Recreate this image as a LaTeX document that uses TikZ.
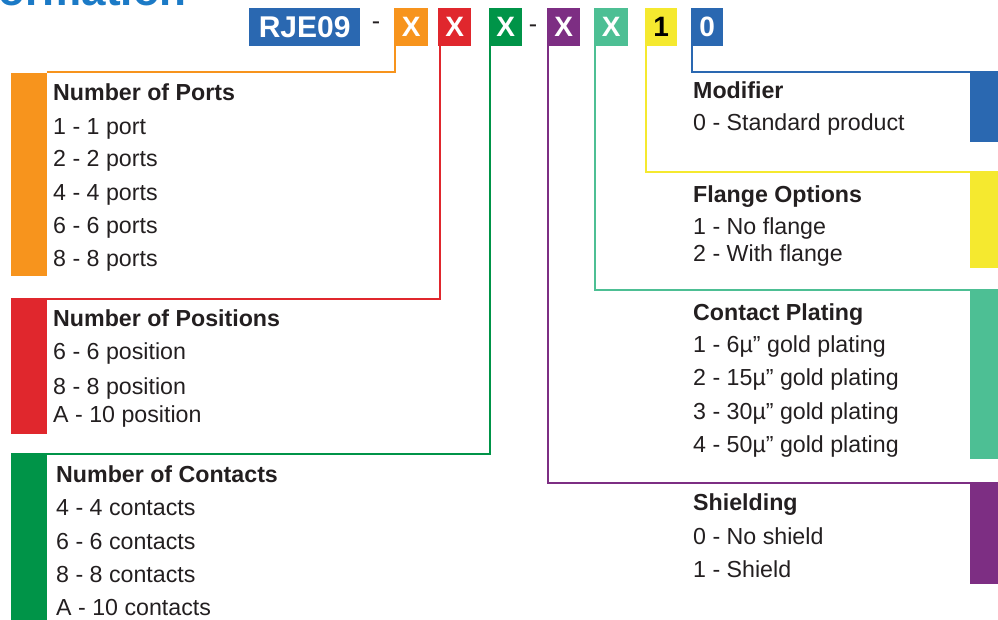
\documentclass[tikz,border=0pt]{standalone}
\usepackage{fontspec}
\setmainfont{Liberation Sans}
\definecolor{corange}{HTML}{F7941D}
\definecolor{cred}{HTML}{E0272D}
\definecolor{cgreen}{HTML}{009448}
\definecolor{cpurple}{HTML}{7D2E83}
\definecolor{cteal}{HTML}{4DBF94}
\definecolor{cyellow}{HTML}{F5E92F}
\definecolor{cblue}{HTML}{2A68B1}
\definecolor{ctitle}{HTML}{1B7AC6}
\definecolor{ctext}{HTML}{231F20}
\begin{document}
\begin{tikzpicture}[x=1pt,y=-1pt,
  txt/.style={anchor=base west,inner sep=0pt,text=ctext,font=\fontsize{23.2}{27}\selectfont},
  head/.style={txt,font=\fontsize{23.2}{27}\selectfont\bfseries},
  codebox/.style={draw=none,inner sep=0pt,minimum height=38pt,anchor=north west,text=white,font=\fontsize{28}{30}\selectfont\bfseries},
  bar/.style={draw=none,inner sep=0pt,anchor=north west},
  conn/.style={line width=2pt}]
\useasboundingbox (0,0) rectangle (998,619);
\clip (0,0) rectangle (998,619);
% title (cut off at the top edge, as in the reference)
\node[anchor=base east,inner sep=0pt,text=ctitle,font=\fontsize{44}{48}\selectfont\bfseries] (title) at (187,5) {Information};
% code boxes
\node[codebox,fill=cblue,minimum width=111pt,font=\fontsize{30}{32}\selectfont\bfseries] (rje) at (249,8) {RJE09};
\node[txt,anchor=base,font=\fontsize{25}{27}\selectfont] (dash1) at (376,29.5) {-};
\node[codebox,fill=corange,minimum width=34pt] (xo) at (394,8) {X};
\node[codebox,fill=cred,minimum width=33pt] (xr) at (438,8) {X};
\node[codebox,fill=cgreen,minimum width=33pt] (xg) at (489,8) {X};
\node[txt,anchor=base,font=\fontsize{25}{27}\selectfont] (dash2) at (533,32.5) {-};
\node[codebox,fill=cpurple,minimum width=33pt] (xp) at (547,8) {X};
\node[codebox,fill=cteal,minimum width=34pt] (xt) at (594,8) {X};
\node[codebox,fill=cyellow,minimum width=32pt,text=black] (xy) at (645,8) {1};
\node[codebox,fill=cblue,minimum width=32pt] (xb) at (691,8) {0};
% left bars
\node[bar,fill=corange,minimum width=36pt,minimum height=203pt] (portsbar) at (11,73) {};
\node[bar,fill=cred,minimum width=36pt,minimum height=135pt] (posbar) at (11,299) {};
\node[bar,fill=cgreen,minimum width=36pt,minimum height=170pt] (conbar) at (11,454) {};
% right bars
\node[bar,fill=cblue,minimum width=28pt,minimum height=70pt] (modbar) at (970,72) {};
\node[bar,fill=cyellow,minimum width=28pt,minimum height=96pt] (flbar) at (970,172) {};
\node[bar,fill=cteal,minimum width=28pt,minimum height=169pt] (platbar) at (970,290) {};
\node[bar,fill=cpurple,minimum width=28pt,minimum height=101pt] (shbar) at (970,483) {};
% connectors
\draw[conn,corange] ([xshift=1pt]xo.south west) |- ([yshift=1pt]portsbar.north east);
\draw[conn,cred] ([xshift=1.5pt]xr.south west) |- (posbar.north west);
\draw[conn,cgreen] ([xshift=1pt]xg.south west) |- (conbar.north west);
\draw[conn,cpurple] ([xshift=1pt]xp.south west) |- (shbar.north east);
\draw[conn,cteal] ([xshift=1pt]xt.south west) |- (platbar.north east);
\draw[conn,cyellow] ([xshift=1pt]xy.south west) |- (flbar.north east);
\draw[conn,cblue] ([xshift=1pt]xb.south west) |- (modbar.north east);
% left texts
\node[head] (h1) at (53,100.7) {Number of Ports};
\node[txt] (p1) at (53,134) {1 - 1 port};
\node[txt] (p2) at (53,166.7) {2 - 2 ports};
\node[txt] (p3) at (53,200) {4 - 4 ports};
\node[txt] (p4) at (53,233.3) {6 - 6 ports};
\node[txt] (p5) at (53,266.7) {8 - 8 ports};
\node[head] (h2) at (53,326) {Number of Positions};
\node[txt] (q1) at (53,359.3) {6 - 6 position};
\node[txt] (q2) at (53,394.3) {8 - 8 position};
\node[txt] (q3) at (53,422.7) {A - 10 position};
\node[head] (h3) at (56,482.7) {Number of Contacts};
\node[txt] (c1) at (56,515.7) {4 - 4 contacts};
\node[txt] (c2) at (56,549) {6 - 6 contacts};
\node[txt] (c3) at (56,582.3) {8 - 8 contacts};
\node[txt] (c4) at (56,615) {A - 10 contacts};
% right texts
\node[head] (h4) at (693,98.3) {Modifier};
\node[txt] (m1) at (693,130.7) {0 - Standard product};
\node[head] (h5) at (693,202.3) {Flange Options};
\node[txt] (f1) at (693,234) {1 - No flange};
\node[txt] (f2) at (693,261.7) {2 - With flange};
\node[head] (h6) at (693,320) {Contact Plating};
\node[txt] (g1) at (693,352.3) {1 - 6µ” gold plating};
\node[txt] (g2) at (693,385.7) {2 - 15µ” gold plating};
\node[txt] (g3) at (693,419) {3 - 30µ” gold plating};
\node[txt] (g4) at (693,452.3) {4 - 50µ” gold plating};
\node[head] (h7) at (693,510.7) {Shielding};
\node[txt] (s1) at (693,544.3) {0 - No shield};
\node[txt] (s2) at (693,577.7) {1 - Shield};
\end{tikzpicture}
\end{document}
